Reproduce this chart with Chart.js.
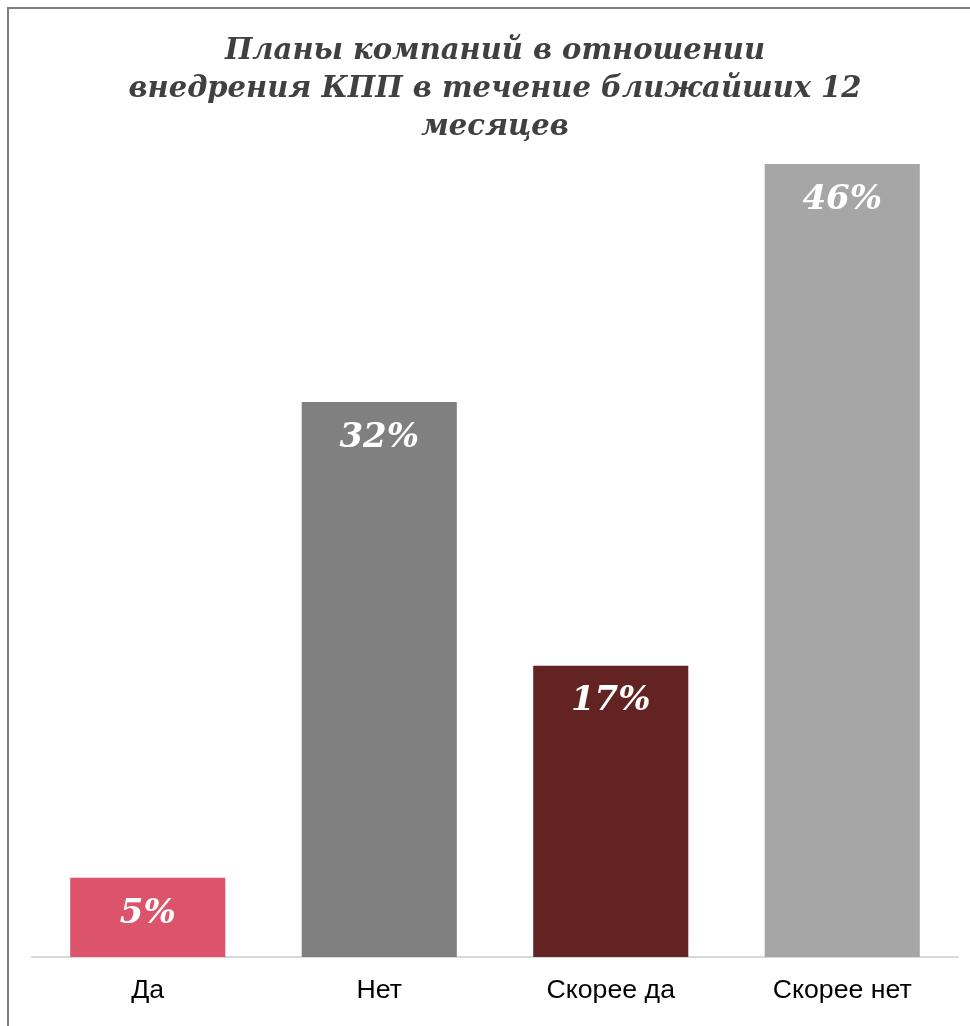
<!DOCTYPE html>
<html>
<head>
<meta charset="utf-8">
<script src="https://cdn.jsdelivr.net/npm/chart.js@4.4.1/dist/chart.umd.min.js"></script>
<style>
  html, body { margin: 0; padding: 0; background: #fff; }
  #wrap { position: relative; width: 970px; height: 1026px; overflow: hidden; }
  #frame { position: absolute; left: 7px; top: 7px; width: 1000px; height: 1100px; border: 2px solid #7f7f7f; box-sizing: border-box; }
  canvas { position: absolute; left: 0; top: 0; }
</style>
</head>
<body>
<div id="wrap">
  <div id="frame"></div>
  <canvas id="chart" width="970" height="1017"></canvas>
</div>
<script>
// categories and values (percent)
const categories = ['Да', 'Нет', 'Скорее да', 'Скорее нет'];
const shares = [4.6, 32.2, 16.9, 46];
const shareLabels = ['5%', '32%', '17%', '46%'];
const barColors = ['#DC546B', '#808080', '#632322', '#A6A6A6'];
const titleLines = ['Планы компаний в отношении', 'внедрения КПП в течение ближайших 12', 'месяцев'];

const serif = "'DejaVu Serif', Georgia, serif";

// white percent labels inside the top of each bar
const barLabels = {
  id: 'barLabels',
  afterDatasetsDraw(chart) {
    const ctx = chart.ctx;
    const meta = chart.getDatasetMeta(0);
    ctx.save();
    ctx.fillStyle = '#ffffff';
    ctx.font = 'italic bold 34px ' + serif;
    ctx.textAlign = 'center';
    ctx.textBaseline = 'middle';
    meta.data.forEach((bar, i) => {
      ctx.fillText(shareLabels[i], bar.x, bar.y + 36);
    });
    ctx.restore();
  }
};

new Chart(document.getElementById('chart'), {
  type: 'bar',
  data: {
    labels: categories,
    datasets: [{
      data: shares,
      backgroundColor: barColors,
      categoryPercentage: 1,
      barPercentage: 0.67
    }]
  },
  options: {
    responsive: false,
    animation: false,
    layout: { padding: { left: 32, right: 12, top: 33, bottom: 0 } },
    plugins: {
      legend: { display: false },
      tooltip: { enabled: false },
      title: {
        display: true,
        text: titleLines,
        color: '#404040',
        font: { family: serif, size: 29, weight: 'bold', style: 'italic', lineHeight: 1.3 },
        padding: { top: 0, bottom: 18 }
      }
    },
    scales: {
      x: {
        grid: { display: false },
        border: { color: '#d9d9d9', width: 2 },
        ticks: { color: '#000000', font: { family: "'Liberation Sans', Arial, sans-serif", size: 26.7 }, padding: 10 }
      },
      y: {
        display: false,
        min: 0,
        max: 46
      }
    }
  },
  plugins: [barLabels]
});
</script>
</body>
</html>
